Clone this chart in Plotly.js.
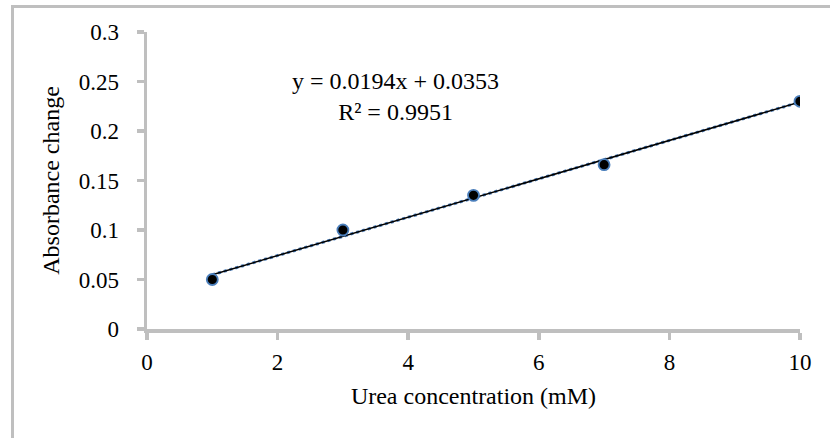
<!DOCTYPE html>
<html>
<head>
<meta charset="utf-8">
<script src="https://cdn.plot.ly/plotly-3.0.1.min.js"></script>
<style>
  html, body { margin: 0; padding: 0; background: #ffffff; }
  #wrap { position: relative; width: 830px; height: 438px; }
  #chart { position: absolute; left: 0; top: 0; width: 830px; height: 438px; }
  #frame { position: absolute; left: 11px; top: 5px; width: 830px; height: 431px;
           border-top: 3px solid #bfbfbf; border-left: 3px solid #bfbfbf;
           border-bottom: 1px solid #ececec; pointer-events: none; }
</style>
</head>
<body>
<div id="wrap">
  <div id="chart"></div>
  <div id="frame"></div>
</div>
<script>
// Data
const ureaConc = [1, 3, 5, 7, 10];
const absorbanceChange = [0.05, 0.10, 0.135, 0.166, 0.23];
const xTicks = [0, 2, 4, 6, 8, 10];
const yTicks = [0, 0.05, 0.1, 0.15, 0.2, 0.25, 0.3];
const yTickLabels = ['0', '0.05', '0.1', '0.15', '0.2', '0.25', '0.3'];
const equationText = 'y = 0.0194x + 0.0353';
const r2Text = 'R² = 0.9951';

// Least-squares linear fit (trendline) from the data
const n = ureaConc.length;
const mx = ureaConc.reduce((a, b) => a + b, 0) / n;
const my = absorbanceChange.reduce((a, b) => a + b, 0) / n;
let sxx = 0, sxy = 0;
for (let i = 0; i < n; i++) {
  sxx += (ureaConc[i] - mx) * (ureaConc[i] - mx);
  sxy += (ureaConc[i] - mx) * (absorbanceChange[i] - my);
}
const slope = sxy / sxx;
const intercept = my - slope * mx;
const xFit = [Math.min(...ureaConc), Math.max(...ureaConc)];
const yFit = xFit.map(x => slope * x + intercept);

const font = 'Liberation Serif, Times New Roman, serif';
const axisColor = '#bfbfbf';

const traces = [
  { x: xFit, y: yFit, mode: 'lines', line: { color: '#4f81bd', width: 3, dash: 'dot' },
    hoverinfo: 'skip', showlegend: false },
  { x: xFit, y: yFit, mode: 'lines', line: { color: '#000000', width: 1.5 },
    hoverinfo: 'skip', showlegend: false },
  { x: ureaConc, y: absorbanceChange, mode: 'markers',
    marker: { color: '#000000', size: 11, line: { color: '#4a7ebb', width: 1.8 } },
    showlegend: false }
];

const layout = {
  width: 830, height: 438,
  margin: { l: 146.5, r: 30, t: 32, b: 109 },
  paper_bgcolor: '#ffffff', plot_bgcolor: '#ffffff',
  font: { family: font, size: 23, color: '#000000' },
  showlegend: false,
  xaxis: {
    range: [0, 10], tickvals: xTicks, ticktext: xTicks.map(String),
    showgrid: false, zeroline: false, showline: true, linecolor: axisColor, linewidth: 3.5,
    ticks: 'outside', ticklen: 7, tickwidth: 3.5, tickcolor: axisColor,
    ticklabelstandoff: 3,
    title: { text: 'Urea concentration (mM)', font: { family: font, size: 24 }, standoff: 14 },
    tickfont: { family: font, size: 23 }, fixedrange: true
  },
  yaxis: {
    range: [0, 0.3], tickvals: yTicks, ticktext: yTickLabels,
    showgrid: false, zeroline: false, showline: true, linecolor: axisColor, linewidth: 3.5,
    ticks: 'outside', ticklen: 7, tickwidth: 3.5, tickcolor: axisColor,
    ticklabelstandoff: 13,
    title: { text: 'Absorbance change', font: { family: font, size: 24 }, standoff: 13 },
    tickfont: { family: font, size: 23 }, fixedrange: true
  },
  annotations: [
    { xref: 'paper', yref: 'paper', x: 0.38, y: 0.783, text: equationText + '<br>' + r2Text,
      showarrow: false, font: { family: font, size: 24 }, align: 'center', xanchor: 'center', yanchor: 'middle' }
  ]
};

Plotly.newPlot('chart', traces, layout, { displayModeBar: false, staticPlot: true });
</script>
</body>
</html>
